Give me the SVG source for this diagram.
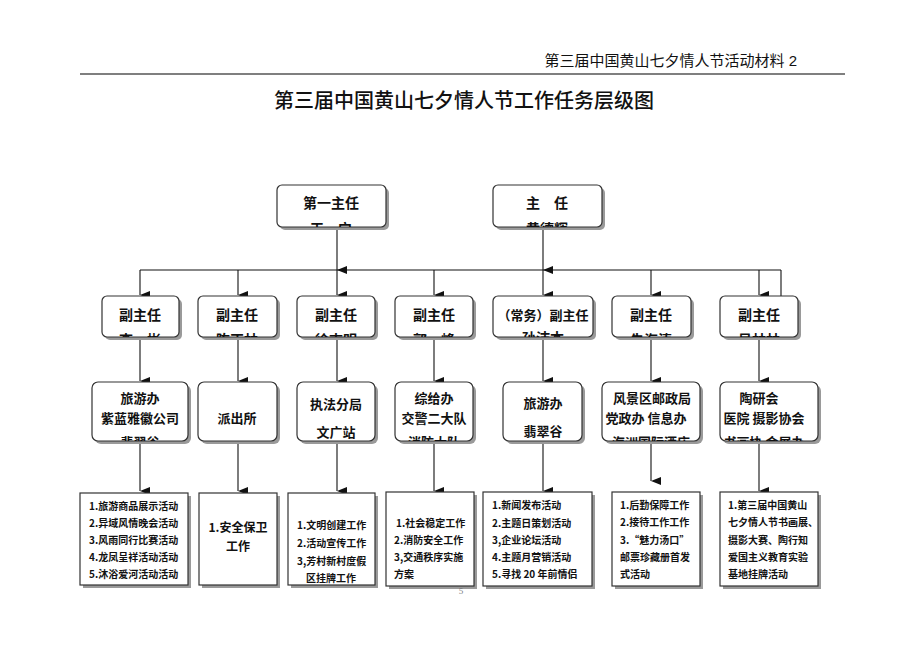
<svg xmlns="http://www.w3.org/2000/svg" width="920" height="651" viewBox="0 0 920 651">
<defs>
<style>
.hd{font-family:"Liberation Sans","Noto Sans CJK SC",sans-serif;font-size:15px;fill:#111}
.tt{font-family:"Noto Sans CJK SC",sans-serif;font-size:20px;fill:#111;font-weight:500}
.box{fill:#fff;stroke:#333;stroke-width:1.2}
.sh{fill:#9a9a9a}
.t1{font-family:"Noto Sans CJK SC",sans-serif;font-size:14px;font-weight:700;fill:#111;text-anchor:middle}
.t2{font-family:"Noto Sans CJK SC",sans-serif;font-size:13px;font-weight:700;fill:#111;text-anchor:middle}
.t3{font-family:"Noto Sans CJK SC",sans-serif;font-size:10px;font-weight:700;fill:#111}
.ln{stroke:#111;stroke-width:1.1;fill:none}
</style>
<marker id="ar" viewBox="0 0 8 10" refX="4" refY="10" markerWidth="8" markerHeight="10" markerUnits="userSpaceOnUse" orient="auto-start-reverse">
<path d="M0,0 L8,0 L4,10 Z" fill="#111"/>
</marker>
<clipPath id="cA"><rect x="277" y="185" width="109" height="42"/></clipPath>
<clipPath id="cB"><rect x="493" y="185" width="109" height="42"/></clipPath>
<clipPath id="v1"><rect x="102" y="296" width="77" height="41"/></clipPath>
<clipPath id="v2"><rect x="198" y="296" width="79" height="41"/></clipPath>
<clipPath id="v3"><rect x="297" y="296" width="78" height="41"/></clipPath>
<clipPath id="v4"><rect x="395" y="296" width="78" height="41"/></clipPath>
<clipPath id="v5"><rect x="493" y="296" width="100" height="41"/></clipPath>
<clipPath id="v6"><rect x="612" y="296" width="79" height="41"/></clipPath>
<clipPath id="v7"><rect x="720" y="296" width="78" height="41"/></clipPath>
<clipPath id="d1"><rect x="92" y="382" width="96" height="59"/></clipPath>
<clipPath id="d4"><rect x="395" y="382" width="78" height="59"/></clipPath>
<clipPath id="d6"><rect x="602" y="382" width="98" height="59"/></clipPath>
<clipPath id="d7"><rect x="720" y="382" width="98" height="59"/></clipPath>
</defs>
<rect width="920" height="651" fill="#fff"/>

<text class="hd" x="797" y="66" text-anchor="end">第三届中国黄山七夕情人节活动材料 2</text>
<line x1="80" y1="74" x2="845" y2="74" stroke="#555" stroke-width="1.5"/>
<text class="tt" x="464" y="108" text-anchor="middle">第三届中国黄山七夕情人节工作任务层级图</text>

<g id="connectors">
<line class="ln" x1="337" y1="227" x2="337" y2="270" marker-end="url(#ar)"/>
<line class="ln" x1="543" y1="227" x2="543" y2="270" marker-end="url(#ar)"/>
<line class="ln" x1="140" y1="270" x2="781" y2="270"/>
<line class="ln" x1="781" y1="270" x2="781" y2="296"/>
<line class="ln" x1="140" y1="270" x2="140" y2="295" marker-end="url(#ar)"/>
<line class="ln" x1="238" y1="270" x2="238" y2="295" marker-end="url(#ar)"/>
<line class="ln" x1="337" y1="270" x2="337" y2="295" marker-end="url(#ar)"/>
<line class="ln" x1="434" y1="270" x2="434" y2="295" marker-end="url(#ar)"/>
<line class="ln" x1="543" y1="270" x2="543" y2="295" marker-end="url(#ar)"/>
<line class="ln" x1="651" y1="270" x2="651" y2="295" marker-end="url(#ar)"/>
<line class="ln" x1="759" y1="270" x2="759" y2="295" marker-end="url(#ar)"/>

<line class="ln" x1="140" y1="338" x2="140" y2="381" marker-end="url(#ar)"/>
<line class="ln" x1="238" y1="338" x2="238" y2="381" marker-end="url(#ar)"/>
<line class="ln" x1="337" y1="338" x2="337" y2="381" marker-end="url(#ar)"/>
<line class="ln" x1="434" y1="338" x2="434" y2="381" marker-end="url(#ar)"/>
<line class="ln" x1="543" y1="338" x2="543" y2="381" marker-end="url(#ar)"/>
<line class="ln" x1="651" y1="338" x2="651" y2="381" marker-end="url(#ar)"/>
<line class="ln" x1="759" y1="338" x2="759" y2="381" marker-end="url(#ar)"/>

<line class="ln" x1="140" y1="442" x2="140" y2="491" marker-end="url(#ar)"/>
<line class="ln" x1="238" y1="442" x2="238" y2="491" marker-end="url(#ar)"/>
<line class="ln" x1="337" y1="442" x2="337" y2="491" marker-end="url(#ar)"/>
<line class="ln" x1="434" y1="442" x2="434" y2="491" marker-end="url(#ar)"/>
<line class="ln" x1="543" y1="442" x2="543" y2="491" marker-end="url(#ar)"/>
<line class="ln" x1="651" y1="442" x2="651" y2="481" marker-end="url(#ar)"/>
<line class="ln" x1="759" y1="442" x2="759" y2="491" marker-end="url(#ar)"/>
</g>

<g id="top1">
<rect class="sh" x="280" y="188" width="109" height="42" rx="5"/>
<rect class="box" x="277" y="185" width="109" height="42" rx="5"/>
<text class="t1" x="331" y="208">第一主任</text>
<text class="t1" x="331" y="234" clip-path="url(#cA)">王　宁</text>
</g>
<g id="top2">
<rect class="sh" x="496" y="188" width="109" height="42" rx="5"/>
<rect class="box" x="493" y="185" width="109" height="42" rx="5"/>
<text class="t1" x="547" y="208">主　任</text>
<text class="t1" x="547" y="234" clip-path="url(#cB)">黄德辉</text>
</g>

<g id="vice1">
<rect class="sh" x="105" y="299" width="77" height="41" rx="5"/>
<rect class="box" x="102" y="296" width="77" height="41" rx="5"/>
<text class="t1" x="140" y="320">副主任</text>
<text class="t1" x="140" y="345" clip-path="url(#v1)">李　彬</text>
</g>
<g id="vice2">
<rect class="sh" x="201" y="299" width="79" height="41" rx="5"/>
<rect class="box" x="198" y="296" width="79" height="41" rx="5"/>
<text class="t1" x="237" y="320">副主任</text>
<text class="t1" x="237" y="345" clip-path="url(#v2)">陈正林</text>
</g>
<g id="vice3">
<rect class="sh" x="300" y="299" width="78" height="41" rx="5"/>
<rect class="box" x="297" y="296" width="78" height="41" rx="5"/>
<text class="t1" x="336" y="320">副主任</text>
<text class="t1" x="336" y="345" clip-path="url(#v3)">徐志明</text>
</g>
<g id="vice4">
<rect class="sh" x="398" y="299" width="78" height="41" rx="5"/>
<rect class="box" x="395" y="296" width="78" height="41" rx="5"/>
<text class="t1" x="434" y="320">副主任</text>
<text class="t1" x="434" y="345" clip-path="url(#v4)">郭　峰</text>
</g>
<g id="vice5">
<rect class="sh" x="496" y="299" width="100" height="41" rx="5"/>
<rect class="box" x="493" y="296" width="100" height="41" rx="5"/>
<text class="t1" x="543" y="320" style="font-size:13px">（常务）副主任</text>
<text class="t1" x="543" y="343" clip-path="url(#v5)">孙沛本</text>
</g>
<g id="vice6">
<rect class="sh" x="615" y="299" width="79" height="41" rx="5"/>
<rect class="box" x="612" y="296" width="79" height="41" rx="5"/>
<text class="t1" x="651" y="320">副主任</text>
<text class="t1" x="651" y="345" clip-path="url(#v6)">朱海涛</text>
</g>
<g id="vice7">
<rect class="sh" x="723" y="299" width="78" height="41" rx="5"/>
<rect class="box" x="720" y="296" width="78" height="41" rx="5"/>
<text class="t1" x="759" y="320">副主任</text>
<text class="t1" x="759" y="345" clip-path="url(#v7)">吴林林</text>
</g>

<g id="dept1">
<rect class="sh" x="95" y="385" width="96" height="59" rx="6"/>
<rect class="box" x="92" y="382" width="96" height="59" rx="6"/>
<text class="t2" x="140" y="403">旅游办</text>
<text class="t2" x="140" y="423">紫蓝雅徽公司</text>
<text class="t2" x="140" y="447" clip-path="url(#d1)">翡翠谷</text>
</g>
<g id="dept2">
<rect class="sh" x="201" y="385" width="79" height="59" rx="6"/>
<rect class="box" x="198" y="382" width="79" height="59" rx="6"/>
<text class="t2" x="237" y="423">派出所</text>
</g>
<g id="dept3">
<rect class="sh" x="300" y="385" width="78" height="59" rx="6"/>
<rect class="box" x="297" y="382" width="78" height="59" rx="6"/>
<text class="t2" x="336" y="409">执法分局</text>
<text class="t2" x="336" y="437">文广站</text>
</g>
<g id="dept4">
<rect class="sh" x="398" y="385" width="78" height="59" rx="6"/>
<rect class="box" x="395" y="382" width="78" height="59" rx="6"/>
<text class="t2" x="434" y="403">综给办</text>
<text class="t2" x="434" y="423">交警二大队</text>
<text class="t2" x="434" y="447" clip-path="url(#d4)">消防大队</text>
</g>
<g id="dept5">
<rect class="sh" x="506" y="385" width="79" height="59" rx="6"/>
<rect class="box" x="503" y="382" width="79" height="59" rx="6"/>
<text class="t2" x="543" y="408">旅游办</text>
<text class="t2" x="543" y="436">翡翠谷</text>
</g>
<g id="dept6">
<rect class="sh" x="605" y="385" width="98" height="59" rx="6"/>
<rect class="box" x="602" y="382" width="98" height="59" rx="6"/>
<text class="t2" x="652" y="403">风景区邮政局</text>
<text class="t2" x="646" y="423">党政办  信息办</text>
<text class="t2" x="651" y="447" clip-path="url(#d6)">海洲国际酒店</text>
</g>
<g id="dept7">
<rect class="sh" x="723" y="385" width="98" height="59" rx="6"/>
<rect class="box" x="720" y="382" width="98" height="59" rx="6"/>
<text class="t2" x="759" y="403">陶研会</text>
<text class="t2" x="764" y="423">医院  摄影协会</text>
<text class="t2" x="764" y="447" clip-path="url(#d7)">书画协  会展办</text>
</g>

<g id="task1">
<rect class="sh" x="83" y="496" width="108" height="92"/>
<rect class="box" x="80" y="493" width="108" height="92"/>
<text class="t3" x="89" y="510">1.旅游商品展示活动</text>
<text class="t3" x="89" y="527">2.异域风情晚会活动</text>
<text class="t3" x="89" y="544">3.风雨同行比赛活动</text>
<text class="t3" x="89" y="561">4.龙凤呈祥活动活动</text>
<text class="t3" x="89" y="578">5.沐浴爱河活动活动</text>
</g>
<g id="task2">
<rect class="sh" x="202" y="496" width="78" height="92"/>
<rect class="box" x="199" y="493" width="78" height="92"/>
<text class="t2" x="238" y="532" style="font-size:12px">1.安全保卫</text>
<text class="t2" x="238" y="551" style="font-size:12px">工作</text>
</g>
<g id="task3">
<rect class="sh" x="291" y="496" width="87" height="92"/>
<rect class="box" x="288" y="493" width="87" height="92"/>
<text class="t3" x="297" y="529">1.文明创建工作</text>
<text class="t3" x="297" y="547">2.活动宣传工作</text>
<text class="t3" x="297" y="565">3,芳村新村度假</text>
<text class="t3" x="331" y="582" text-anchor="middle">区挂牌工作</text>
</g>
<g id="task4">
<rect class="sh" x="389" y="495" width="88" height="94"/>
<rect class="box" x="386" y="492" width="88" height="94"/>
<text class="t3" x="396" y="527">1.社会稳定工作</text>
<text class="t3" x="394" y="544">2.消防安全工作</text>
<text class="t3" x="394" y="561">3,交通秩序实施</text>
<text class="t3" x="394" y="578">方案</text>
</g>
<g id="task5">
<rect class="sh" x="486" y="495" width="109" height="94"/>
<rect class="box" x="483" y="492" width="109" height="94"/>
<text class="t3" x="492" y="509">1.新闻发布活动</text>
<text class="t3" x="492" y="527">2.主题日策划活动</text>
<text class="t3" x="492" y="544">3,企业论坛活动</text>
<text class="t3" x="492" y="561">4.主题月营销活动</text>
<text class="t3" x="492" y="578">5.寻找 20 年前情侣</text>
</g>
<g id="task6">
<rect class="sh" x="615" y="495" width="88" height="94"/>
<rect class="box" x="612" y="492" width="88" height="94"/>
<text class="t3" x="620" y="509">1.后勤保障工作</text>
<text class="t3" x="620" y="526">2.接待工作工作</text>
<text class="t3" x="620" y="544">3.“魅力汤口”</text>
<text class="t3" x="620" y="561">邮票珍藏册首发</text>
<text class="t3" x="620" y="578">式活动</text>
</g>
<g id="task7">
<rect class="sh" x="723" y="495" width="98" height="94"/>
<rect class="box" x="720" y="492" width="98" height="94"/>
<text class="t3" x="728" y="509">1.第三届中国黄山</text>
<text class="t3" x="728" y="526">七夕情人节书画展、</text>
<text class="t3" x="728" y="544">摄影大赛、陶行知</text>
<text class="t3" x="728" y="561">爱国主义教育实验</text>
<text class="t3" x="728" y="578">基地挂牌活动</text>
</g>

<text x="461" y="594" font-family="Liberation Serif,serif" font-size="9" fill="#777" text-anchor="middle">5</text>
</svg>
